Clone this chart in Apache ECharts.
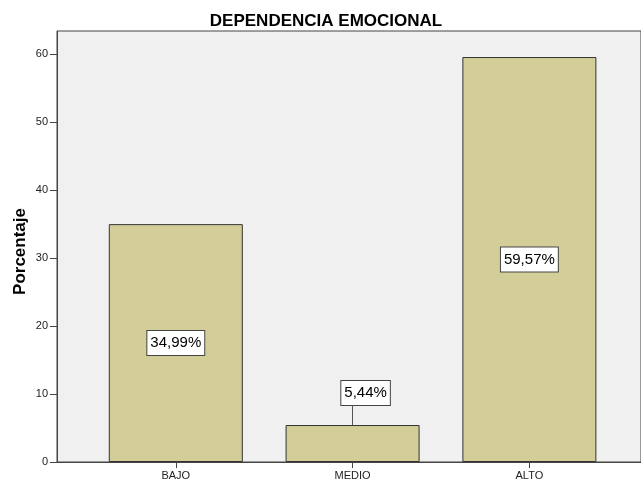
<!DOCTYPE html>
<html>
<head>
<meta charset="utf-8">
<script src="https://cdn.jsdelivr.net/npm/echarts@6/dist/echarts.min.js"></script>
<style>
  html, body { margin: 0; padding: 0; background: #fff; }
  #chart { width: 641px; height: 485px; }
</style>
</head>
<body>
<div id="chart"></div>
<script>
// datos del grafico
const categories = ['BAJO', 'MEDIO', 'ALTO'];
const percentages = [34.99, 5.44, 59.57];
const yTicks = [0, 10, 20, 30, 40, 50, 60];
const xTicks = [0, 1, 2];

const fmtPct = v => v.toFixed(2).replace('.', ',') + '%';
// largo de la linea guia de la etiqueta desplazada (en unidades del eje)
const guideLen = 2.95;

const myChart = echarts.init(document.getElementById('chart'));
const chartOption = {
  animation: false,
  title: {
    text: 'DEPENDENCIA EMOCIONAL',
    left: 321,
    textAlign: 'center',
    top: 8,
    textStyle: {
      color: '#000',
      fontFamily: 'Arial, Liberation Sans',
      fontWeight: 'bold',
      fontSize: 17
    }
  },
  grid: {
    left: 57,
    right: -4,
    top: 31,
    bottom: 23,
    show: true,
    backgroundColor: '#f0f0f0',
    borderColor: '#444',
    borderWidth: 1
  },
  xAxis: {
    type: 'value',
    min: -0.672,
    max: 2.6314,
    splitLine: { show: false },
    axisLine: { show: true, onZero: false, lineStyle: { color: '#444' } },
    axisTick: {
      show: true,
      length: 6,
      customValues: xTicks,
      lineStyle: { color: '#444' }
    },
    axisLabel: {
      customValues: xTicks,
      margin: 8,
      fontSize: 11,
      fontFamily: 'Arial, Liberation Sans',
      color: '#222',
      formatter: v => categories[Math.round(v)]
    }
  },
  yAxis: {
    type: 'value',
    min: 0,
    max: 63.4,
    name: 'Porcentaje',
    nameLocation: 'middle',
    nameGap: 28,
    nameMoveOverlap: false,
    nameTextStyle: {
      fontSize: 17,
      fontWeight: 'bold',
      fontFamily: 'Arial, Liberation Sans',
      color: '#000',
      padding: [0, 0, 0, -10]
    },
    splitLine: { show: false },
    axisLine: { show: true, onZero: false, lineStyle: { color: '#444' } },
    axisTick: {
      show: true,
      length: 7,
      customValues: yTicks,
      lineStyle: { color: '#444' }
    },
    axisLabel: {
      customValues: yTicks,
      margin: 9,
      fontSize: 11,
      fontFamily: 'Arial, Liberation Sans',
      color: '#222'
    }
  },
  series: [{
    type: 'bar',
    barWidth: 134,
    data: percentages.map((v, i) => {
      const item = { value: [i, v] };
      if (i === 1) {
        item.label = { position: 'top', distance: 20, offset: [13, 0] };
      }
      return item;
    }),
    itemStyle: {
      color: '#d3ce98',
      borderColor: '#333',
      borderWidth: 1
    },
    label: {
      show: true,
      position: 'inside',
      formatter: p => fmtPct(p.value[1]),
      fontSize: 15,
      lineHeight: 16,
      fontFamily: 'Arial, Liberation Sans',
      color: '#000',
      backgroundColor: '#fff',
      borderColor: '#444',
      borderWidth: 1,
      padding: [4, 3, 4, 3]
    },
    markLine: {
      silent: true,
      symbol: 'none',
      label: { show: false },
      lineStyle: { color: '#555', width: 1, type: 'solid' },
      data: [[
        { coord: [1, percentages[1]] },
        { coord: [1, percentages[1] + guideLen] }
      ]]
    }
  }]
};
myChart.setOption(chartOption);
</script>
</body>
</html>
